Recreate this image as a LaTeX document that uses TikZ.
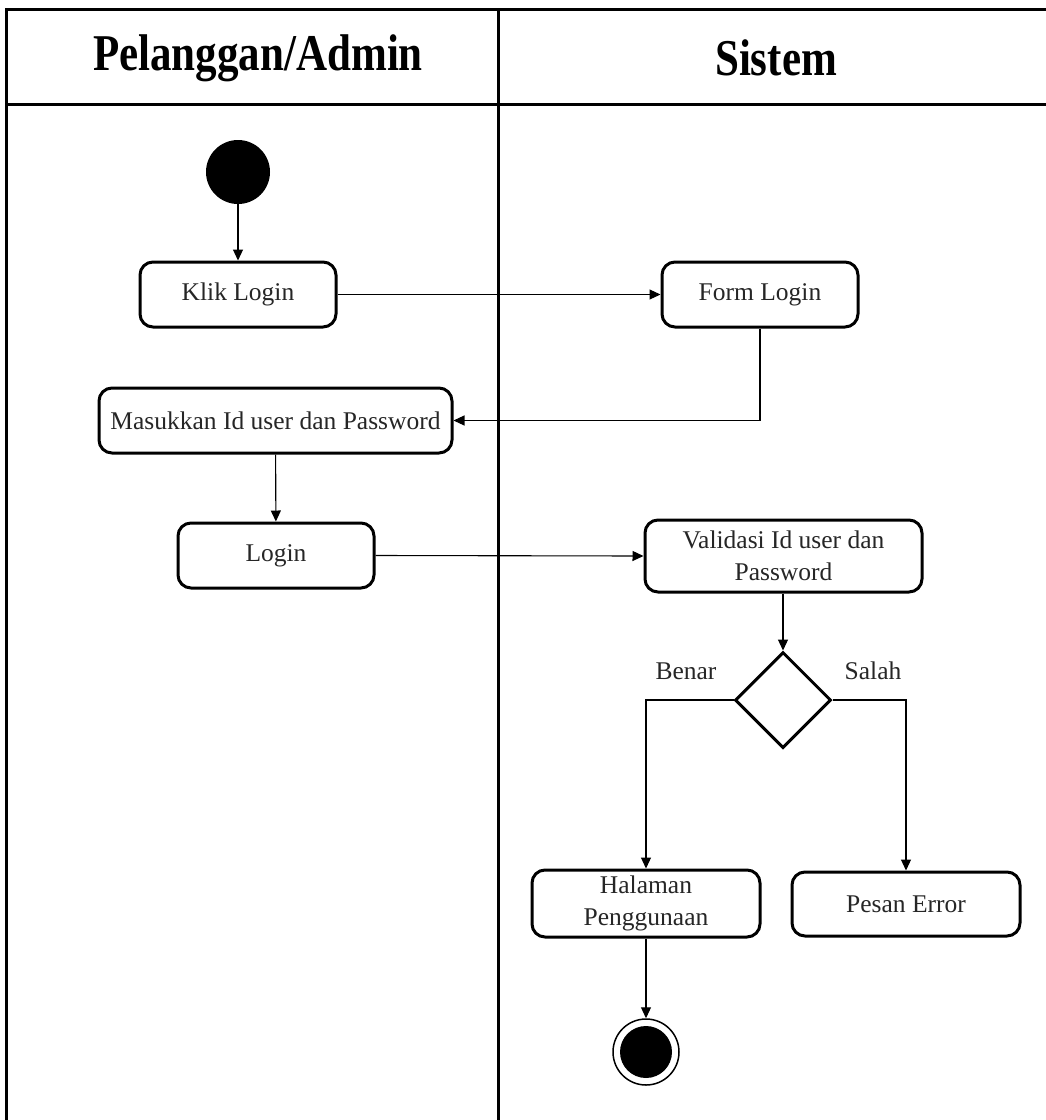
\documentclass[tikz,border=0pt]{standalone}
\usepackage{fontspec}
\setmainfont{Liberation Serif}
\usetikzlibrary{arrows.meta,shapes.geometric}
\begin{document}
\begin{tikzpicture}[x=1pt,y=-1pt,
  lane/.style={line width=3pt,black},
  act/.style={draw,line width=3pt,rounded corners=13pt,align=center,inner sep=0pt,font=\fontsize{25.5}{32}\selectfont,text=black!85},
  flow/.style={line width=1.1pt,-{Triangle[length=11pt,width=10pt]}},
  lbl/.style={font=\fontsize{25.5}{30}\selectfont,text=black!85},
  hdr/.style={font=\fontsize{43}{46}\selectfont\bfseries}]
\useasboundingbox (0,0) rectangle (1046,1120);
% swimlanes
\draw[lane] (1046,9) -- (6,9) -- (6,1120);
\draw[lane] (6,104) -- (1046,104);
\draw[lane] (498,9) -- (498,1120);
\node[hdr] (h1) at (258,58) {\scalebox{1}[1.2]{Pelanggan/Admin}};
\node[hdr] (h2) at (776,58) {\scalebox{1}[1.2]{Sistem}};
% nodes
\node[circle,fill=black,minimum size=64pt,inner sep=0pt] (start) at (238,172) {};
\node[act,minimum width=196pt,minimum height=65pt] (klik) at (238,294.5) {Klik Login};
\node[act,minimum width=196pt,minimum height=65pt] (form) at (760,294.5) {Form Login};
\node[act,minimum width=353pt,minimum height=65pt] (masuk) at (275.5,420.5) {Masukkan Id user dan Password};
\node[act,minimum width=196pt,minimum height=65pt] (login) at (276,555.5) {Login};
\node[act,minimum width=277pt,minimum height=72pt] (valid) at (783.5,556) {Validasi Id user dan\\Password};
\node[diamond,draw,line width=3pt,minimum width=96pt,minimum height=96pt,inner sep=0pt,aspect=1] (dec) at (783,700) {};
\node[lbl] (benar) at (686,671) {Benar};
\node[lbl] (salah) at (873,671) {Salah};
\node[act,minimum width=228pt,minimum height=67pt] (hal) at (646,903.5) {Halaman\\Penggunaan};
\node[act,minimum width=228pt,minimum height=64pt] (err) at (906,904) {Pesan Error};
\node[circle,draw,line width=1.5pt,minimum size=66pt,inner sep=0pt] (end) at (646,1052) {};
\node[circle,fill=black,minimum size=52pt,inner sep=0pt] (endin) at (646,1052) {};
% connectors
\draw[flow] (start) -- (klik);
\draw[flow] (klik) -- (form);
\draw[flow] (form.south) |- (masuk.east);
\draw[flow] (masuk) -- (login);
\draw[flow] (login.east) -- (valid.west);
\draw[flow] (valid.south -| dec.north) -- (dec.north);
\draw[flow] (dec.west) -| (hal.north);
\draw[flow] (dec.east) -| (err.north);
\draw[flow] (hal) -- (end);
\end{tikzpicture}
\end{document}
